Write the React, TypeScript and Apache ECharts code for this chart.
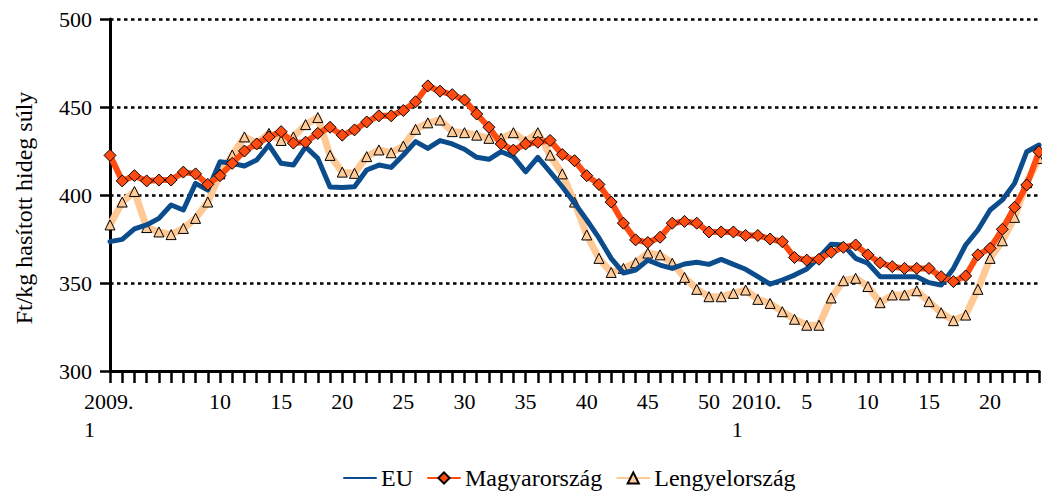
import React, { useEffect, useRef } from "react";
import * as echarts from "echarts";

// Categories: weeks 2009 (1..53) and 2010 (1..24)
const weeks2009Count = 53;
const weeks2010Count = 24;
const categories: string[] = [
  ...Array.from({ length: weeks2009Count }, (_, i) => `2009-${i + 1}`),
  ...Array.from({ length: weeks2010Count }, (_, i) => `2010-${i + 1}`),
];

const labelIndices = [0, 9, 14, 19, 24, 29, 34, 39, 44, 49, 53, 57, 62, 67, 72];
const labelTexts = ["2009.\n1", "10", "15", "20", "25", "30", "35", "40", "45", "50", "2010.\n1", "5", "10", "15", "20"];

const yTicks = [300, 350, 400, 450, 500];

const seriesNames = ["EU", "Magyarország", "Lengyelország"];

const euValues = [
  373.5, 374.8, 380.7, 383, 386.7, 394.3, 391.5, 406.6, 402.8, 418.9,
  418, 416.5, 419.9, 428.4, 418, 417, 427.4, 420.8, 404.5, 404.3,
  404.7, 414.2, 417, 415.7, 422.7, 430.3, 426.5, 430.9, 429, 426,
  421.4, 420.3, 424.6, 421.8, 413.2, 421.4, 413.2, 404.7, 395.5, 385.8,
  375.6, 364, 355.7, 357.4, 363, 360.2, 358.3, 360.8, 361.8, 360.6,
  363.4, 360.6, 357.8, 353.6, 349.3, 351.7, 354.5, 358, 364.5, 372,
  371.6, 364, 361.2, 353.6, 353.6, 353.6, 353.6, 350.2, 348.9, 358.3,
  371.6, 380.1, 391.5, 397.2, 406.6, 424.6, 428.4,
];

const huValues = [
  422.5, 408, 411, 408, 408.5, 408.5, 413, 412, 406, 411,
  418, 425, 429, 433, 436, 429.5, 430, 435, 438.5, 434,
  437, 441.5, 445, 445, 448, 453, 462, 459, 457, 454,
  446, 438.5, 429, 425.5, 429, 430, 431, 423, 419.5, 411,
  406, 396, 384, 374.5, 373, 376, 384, 385, 384, 379,
  379, 379, 377, 377, 375, 373.5, 364.5, 363, 363.5, 367.5,
  370.3, 371.6, 366, 361.5, 359.3, 358.3, 358.3, 358.3, 353.6, 350.8,
  354, 366, 369.7, 380.5, 393, 405.7, 424.6,
];

const plValues = [
  383, 396, 402, 381.5, 379, 377.5, 381, 386.7, 396, 412,
  422.7, 433, 429.4, 435, 431, 433, 440, 444, 422.5, 413,
  412.3, 421.8, 425.6, 424, 427.8, 437.3, 441, 442.6, 436, 435.4,
  434, 432.2, 432.2, 435.4, 430.3, 435.4, 422.7, 412, 396, 377.3,
  364, 356, 358.3, 361.5, 367, 366, 361.2, 353.2, 346.4, 342.2,
  342.2, 344.1, 346, 340.7, 338.4, 333.7, 329.4, 326, 326, 341.5,
  351.3, 352.7, 348, 338.8, 343.2, 343.2, 345.6, 339.4, 333.1, 328.6,
  331.8, 346.4, 364, 374, 387.3, 407, 420.8,
];

const FONT = "'Liberation Serif', 'Times New Roman', serif";

export default function App() {
  const ref = useRef<HTMLDivElement>(null);
  useEffect(() => {
    if (!ref.current) return;
    const chart = echarts.init(ref.current, undefined, { renderer: "svg" });
    chart.setOption({
      animation: false,
      backgroundColor: "#ffffff",
      textStyle: { fontFamily: FONT, color: "#000" },
      grid: { left: 110, right: 0, top: 19, bottom: 122, containLabel: false },
      legend: {
        data: [
          { name: seriesNames[0], itemStyle: { opacity: 0 } },
          { name: seriesNames[1] },
          { name: seriesNames[2] },
        ],
        left: 343,
        top: 465,
        padding: 0,
        itemWidth: 32,
        itemHeight: 14,
        itemGap: 14,
        textStyle: { fontFamily: FONT, fontSize: 24, lineHeight: 26, color: "#000" },
      },
      graphic: [
        {
          type: "text",
          x: 24,
          y: 208,
          rotation: Math.PI / 2,
          style: {
            text: "Ft/kg hasított hideg súly",
            font: `24px ${FONT}`,
            fill: "#000",
            textAlign: "center",
            textVerticalAlign: "middle",
          },
        },
      ],
      xAxis: {
        type: "category",
        data: categories,
        boundaryGap: false,
        axisLine: { show: true, lineStyle: { color: "#000", width: 3 } },
        axisTick: { show: true, interval: 0, length: 12, lineStyle: { color: "#000", width: 2.5 } },
        splitLine: { show: false },
        axisLabel: {
          interval: 0,
          formatter: (_v: string, index: number) => {
            const k = labelIndices.indexOf(index);
            const t = k >= 0 ? labelTexts[k] : "";
            if (t.indexOf("\n") >= 0) {
              const [a, b] = t.split("\n");
              return `{y|${a}}\n{y|${b}}`;
            }
            return t;
          },
          margin: 16,
          fontSize: 22,
          lineHeight: 28,
          color: "#000",
          fontFamily: FONT,
          verticalAlign: "top",
          rich: {
            y: { width: 52, align: "left", fontSize: 22, lineHeight: 28, fontFamily: FONT, color: "#000" },
          },
        },
      },
      yAxis: {
        type: "value",
        min: yTicks[0],
        max: yTicks[yTicks.length - 1],
        interval: 50,
        axisLine: { show: true, lineStyle: { color: "#000", width: 3 } },
        axisTick: { show: true, length: 10, lineStyle: { color: "#000", width: 2.5 } },
        axisLabel: { fontSize: 22, color: "#000", fontFamily: FONT, margin: 18 },
        splitLine: { show: true, lineStyle: { color: "#000", width: 2.5, type: [3.5, 3.5] } },
      },
      series: [
        {
          name: seriesNames[0],
          type: "line",
          data: euValues,
          z: 3,
          symbol: "none",
          showSymbol: false,
          lineStyle: { color: "#0B4C8C", width: 5, cap: "round", join: "round" },
          itemStyle: { color: "#0B4C8C" },
        },
        {
          name: seriesNames[1],
          type: "line",
          data: huValues,
          z: 4,
          symbol: "diamond",
          symbolSize: 12,
          showAllSymbol: true,
          lineStyle: { color: "#FF4A10", width: 6, cap: "round", join: "round" },
          itemStyle: { color: "#FF4A10", borderColor: "#000", borderWidth: 1 },
        },
        {
          name: seriesNames[2],
          type: "line",
          data: plValues,
          z: 2,
          symbol: "triangle",
          symbolSize: 10,
          showAllSymbol: true,
          lineStyle: { color: "#FFC996", width: 7, cap: "round", join: "round" },
          itemStyle: { color: "#FFCC99", borderColor: "#000", borderWidth: 1 },
        },
      ],
    });
    return () => chart.dispose();
  }, []);
  return (
    <div
      ref={ref}
      style={{ position: "absolute", left: 0, top: 0, width: 1042, height: 493 }}
    />
  );
}
